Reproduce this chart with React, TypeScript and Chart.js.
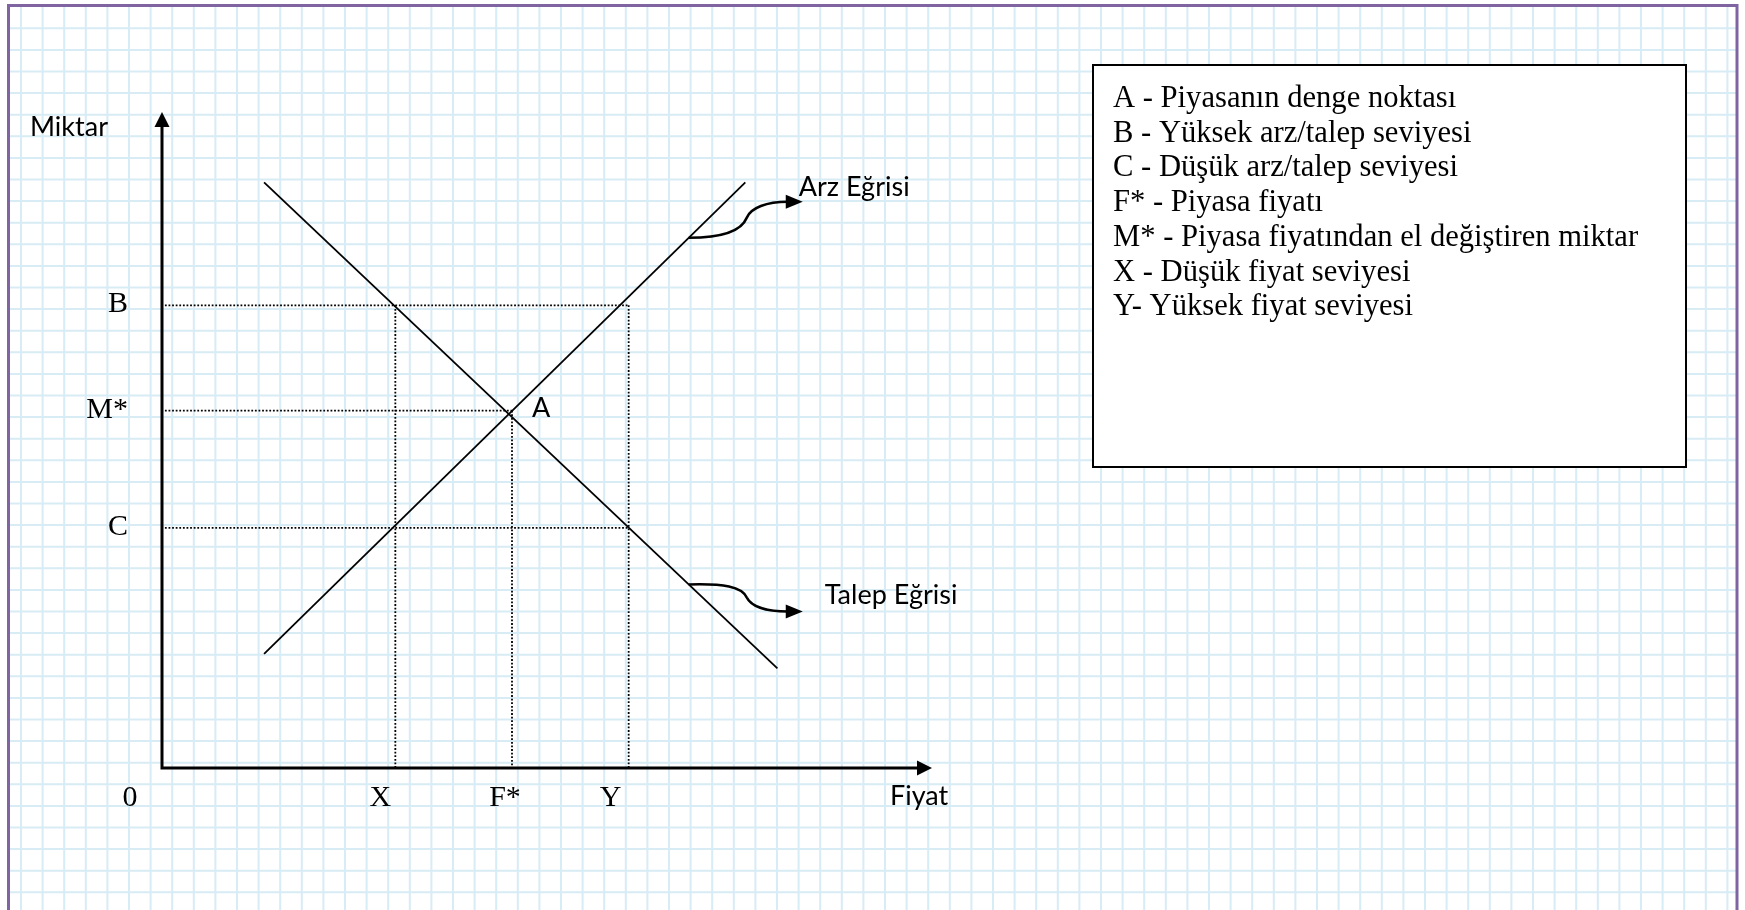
import React, { useEffect, useRef } from 'react';
import { Chart, registerables } from 'chart.js';

Chart.register(...registerables);

// ---- Axis ranges (data units) ----
const PRICE_MAX = 13.2;
const QUANTITY_MAX = 11.2;

// ---- Price levels on the x axis (Fiyat) ----
const priceLabels = ['X', 'F*', 'Y'];
const priceLevels = [4, 6, 8];

// ---- Quantity levels on the y axis (Miktar) ----
const quantityLabels = ['B', 'M*', 'C'];
const quantityLevels = [7.9, 6.1, 4.1];

// ---- Supply curve (Arz Eğrisi) ----
const supplyPrice = [1.75, 10];
const supplyQuantity = [1.95, 10];

// ---- Demand curve (Talep Eğrisi) ----
const demandPrice = [1.75, 10.55];
const demandQuantity = [10, 1.7];

// ---- Equilibrium point A ----
const equilibriumLabel = 'A';
const equilibriumPrice = 6;
const equilibriumQuantity = 6.1;

// ---- Dotted guides ----
const hGuideQuantity = [7.9, 6.1, 4.1];
const hGuidePriceEnd = [8, 6, 8];
const vGuidePrice = [4, 6, 8];
const vGuideQuantityTop = [7.9, 6.1, 7.9];

// ---- Curve call-outs ----
const calloutPrice = 9.03;
const supplyName = 'Arz Eğrisi';
const demandName = 'Talep Eğrisi';

// ---- Axis names ----
const xAxisName = 'Fiyat';
const yAxisName = 'Miktar';
const originLabel = '0';

// ---- Legend text ----
const legendLines = [
  'A - Piyasanın denge noktası',
  'B - Yüksek arz/talep seviyesi',
  'C - Düşük arz/talep seviyesi',
  'F* - Piyasa fiyatı',
  'M* - Piyasa fiyatından el değiştiren miktar',
  'X - Düşük fiyat seviyesi',
  'Y- Yüksek fiyat seviyesi',
];

const SANS = 'Lato';
const SERIF = '"Liberation Serif"';

function lineAt(xs: number[], ys: number[], x: number) {
  const t = (x - xs[0]) / (xs[1] - xs[0]);
  return ys[0] + t * (ys[1] - ys[0]);
}

const paperPlugin = {
  id: 'paper',
  beforeDraw(chart: any) {
    const { ctx, width, height } = chart;
    ctx.save();
    ctx.fillStyle = '#ffffff';
    ctx.fillRect(0, 0, width, height);
    // graph-paper grid
    ctx.strokeStyle = 'rgb(216,236,245)';
    ctx.lineWidth = 2;
    ctx.beginPath();
    for (let x = 21; x < 1736; x += 21.6) {
      ctx.moveTo(x, 6);
      ctx.lineTo(x, height);
    }
    for (let y = 28.3; y < height; y += 21.6) {
      ctx.moveTo(9, y);
      ctx.lineTo(1736, y);
    }
    ctx.stroke();
    // purple page border
    ctx.strokeStyle = '#8064a2';
    ctx.lineWidth = 3;
    ctx.beginPath();
    ctx.moveTo(8.5, height + 5);
    ctx.lineTo(8.5, 5.5);
    ctx.lineTo(1737, 5.5);
    ctx.lineTo(1737, height + 5);
    ctx.stroke();
    ctx.restore();
  },
  afterDatasetsDraw(chart: any) {
    const { ctx, chartArea } = chart;
    const xs = chart.scales.x;
    const ys = chart.scales.y;
    const px = (v: number) => xs.getPixelForValue(v);
    const py = (v: number) => ys.getPixelForValue(v);
    const x0 = px(0);
    const y0 = py(0);

    ctx.save();
    ctx.fillStyle = '#000';
    ctx.strokeStyle = '#000';

    // axes with arrowheads
    const head = 15;
    const half = 7.5;
    ctx.lineWidth = 3;
    ctx.beginPath();
    ctx.moveTo(x0, y0 + 1.5);
    ctx.lineTo(x0, chartArea.top + head - 1);
    ctx.moveTo(x0 - 1.5, y0);
    ctx.lineTo(chartArea.right - head + 1, y0);
    ctx.stroke();
    ctx.beginPath();
    ctx.moveTo(x0, chartArea.top);
    ctx.lineTo(x0 - half, chartArea.top + head);
    ctx.lineTo(x0 + half, chartArea.top + head);
    ctx.closePath();
    ctx.fill();
    ctx.beginPath();
    ctx.moveTo(chartArea.right, y0);
    ctx.lineTo(chartArea.right - head, y0 - half);
    ctx.lineTo(chartArea.right - head, y0 + half);
    ctx.closePath();
    ctx.fill();

    // curly call-out arrows
    const drawCurl = (sx: number, sy: number, dir: number) => {
      ctx.lineWidth = 2.6;
      ctx.beginPath();
      ctx.moveTo(sx, sy);
      if (dir < 0) {
        ctx.bezierCurveTo(sx + 30, sy, sx + 52, sy - 5, sx + 58, sy - 20);
        ctx.bezierCurveTo(sx + 62, sy - 30, sx + 78, sy - 36, sx + 99, sy - 36);
      } else {
        ctx.bezierCurveTo(sx + 35, sy - 1, sx + 53, sy + 2, sx + 58, sy + 13);
        ctx.bezierCurveTo(sx + 63, sy + 23, sx + 80, sy + 27, sx + 99, sy + 27);
      }
      ctx.stroke();
      const ty = dir < 0 ? sy - 36 : sy + 27;
      ctx.beginPath();
      ctx.moveTo(sx + 114, ty);
      ctx.lineTo(sx + 97, ty - 7);
      ctx.lineTo(sx + 97, ty + 7);
      ctx.closePath();
      ctx.fill();
      return { tx: sx + 114, ty };
    };
    const sStart = { x: px(calloutPrice), y: py(lineAt(supplyPrice, supplyQuantity, calloutPrice)) };
    const dStart = { x: px(calloutPrice), y: py(lineAt(demandPrice, demandQuantity, calloutPrice)) };
    const sTip = drawCurl(sStart.x, sStart.y, -1);
    const dTip = drawCurl(dStart.x, dStart.y, 1);

    // sans labels
    ctx.font = `27px ${SANS}`;
    ctx.textAlign = 'left';
    ctx.textBaseline = 'alphabetic';
    ctx.fillText(supplyName, sTip.tx - 4, sTip.ty - 6);
    ctx.fillText(demandName, dTip.tx + 22, dTip.ty - 7);
    ctx.fillText(xAxisName, chartArea.right - 42, y0 + 37);
    ctx.fillText(yAxisName, 30, chartArea.top + 24);
    ctx.fillText(equilibriumLabel, px(equilibriumPrice) + 20, py(equilibriumQuantity) + 6);

    // serif axis level labels
    ctx.font = `30px ${SERIF}`;
    ctx.textAlign = 'right';
    quantityLabels.forEach((t, i) => {
      ctx.fillText(t, 128, py(quantityLevels[i]) + 7);
    });
    ctx.textAlign = 'center';
    const labelShift = [-15, -7, -18];
    priceLabels.forEach((t, i) => {
      ctx.fillText(t, px(priceLevels[i]) + labelShift[i], y0 + 38);
    });
    ctx.fillText(originLabel, x0 - 32, y0 + 38);

    // legend box
    const bx = 1093, by = 65, bw = 593, bh = 402;
    ctx.fillStyle = '#fff';
    ctx.fillRect(bx, by, bw, bh);
    ctx.lineWidth = 2;
    ctx.strokeStyle = '#000';
    ctx.strokeRect(bx, by, bw, bh);
    ctx.fillStyle = '#000';
    ctx.font = `30.6px ${SERIF}`;
    ctx.textAlign = 'left';
    legendLines.forEach((t, i) => {
      ctx.fillText(t, bx + 20, by + 42 + i * 34.7);
    });

    ctx.restore();
  },
};

export default function App() {
  const ref = useRef<HTMLCanvasElement>(null);
  useEffect(() => {
    document.body.style.margin = '0';
    const solid = { borderColor: '#000', borderWidth: 1.8, showLine: true, pointRadius: 0, clip: false as any };
    const dotted = { borderColor: '#000', borderWidth: 1.8, borderDash: [1.8, 1.8], showLine: true, pointRadius: 0, clip: false as any };
    const datasets: any[] = [];
    hGuideQuantity.forEach((q, i) => {
      datasets.push({ ...dotted, data: [{ x: 0.05, y: q }, { x: hGuidePriceEnd[i], y: q }] });
    });
    vGuidePrice.forEach((p, i) => {
      datasets.push({ ...dotted, data: [{ x: p, y: vGuideQuantityTop[i] }, { x: p, y: 0 }] });
    });
    datasets.push({ ...solid, data: supplyPrice.map((x, i) => ({ x, y: supplyQuantity[i] })) });
    datasets.push({ ...solid, data: demandPrice.map((x, i) => ({ x, y: demandQuantity[i] })) });

    const chart = new Chart(ref.current as HTMLCanvasElement, {
      type: 'scatter',
      data: { datasets },
      options: {
        animation: false,
        responsive: false,
        devicePixelRatio: 1,
        layout: { padding: { left: 162, right: 813, top: 112, bottom: 142 } },
        scales: {
          x: { type: 'linear', min: 0, max: PRICE_MAX, display: false },
          y: { type: 'linear', min: 0, max: QUANTITY_MAX, display: false },
        },
        plugins: { legend: { display: false }, tooltip: { enabled: false } },
        events: [],
      },
      plugins: [paperPlugin],
    } as any);
    return () => chart.destroy();
  }, []);
  return <canvas ref={ref} width={1745} height={910} style={{ display: 'block' }} />;
}
